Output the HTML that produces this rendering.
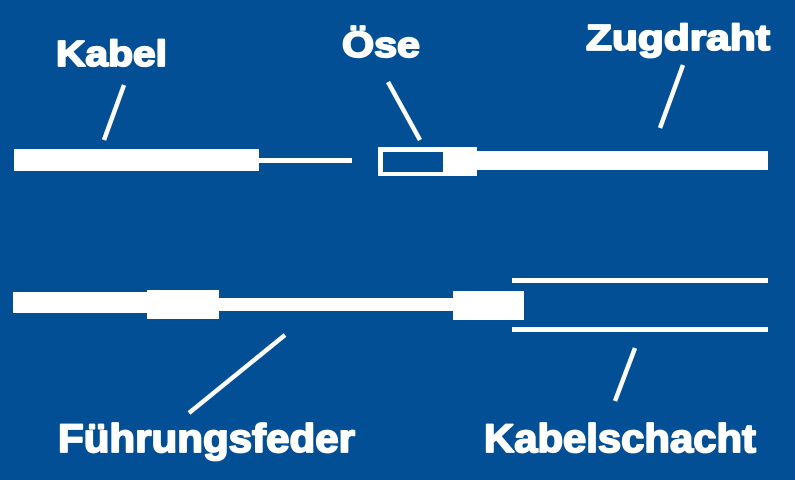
<!DOCTYPE html>
<html><head><meta charset="utf-8"><style>
html,body{margin:0;padding:0;background:#034f95;}
svg{display:block}
text{font-family:"Liberation Sans",sans-serif;font-weight:bold;fill:#fff;stroke:#fff;stroke-width:1.8px;stroke-linejoin:round}
</style></head><body>
<svg width="795" height="480" viewBox="0 0 795 480" xmlns="http://www.w3.org/2000/svg">
<rect width="795" height="480" fill="#034f95"/>
<g fill="#fff">
<rect x="14" y="149" width="245" height="22"/>
<rect x="259" y="158" width="93" height="5"/>
<rect x="378" y="147" width="99" height="29"/>
<rect x="383" y="152" width="60" height="20" fill="#034f95"/>
<rect x="477" y="151" width="291" height="19"/>
<rect x="13" y="292" width="134" height="21"/>
<rect x="147" y="290" width="72" height="29"/>
<rect x="219" y="298" width="234" height="13"/>
<rect x="453" y="291" width="71" height="29"/>
<rect x="512" y="278" width="256" height="5"/>
<rect x="512" y="327" width="256" height="5"/>
</g>
<g stroke="#fff" stroke-width="4.5">
<line x1="124" y1="85" x2="104" y2="140"/>
<line x1="388" y1="82" x2="420" y2="140"/>
<line x1="683" y1="65" x2="660" y2="128"/>
<line x1="285" y1="335" x2="189" y2="413"/>
<line x1="635" y1="348" x2="615" y2="401"/>
</g>
<text x="56" y="66" font-size="36" textLength="111" lengthAdjust="spacingAndGlyphs">Kabel</text>
<text x="342" y="57" font-size="36" textLength="78" lengthAdjust="spacingAndGlyphs">Öse</text>
<text x="586" y="50" font-size="36" textLength="184" lengthAdjust="spacingAndGlyphs">Zugdraht</text>
<text x="58" y="452" font-size="40" textLength="297" lengthAdjust="spacingAndGlyphs">Führungsfeder</text>
<text x="484" y="452" font-size="40" textLength="272" lengthAdjust="spacingAndGlyphs">Kabelschacht</text>
</svg>
</body></html>
